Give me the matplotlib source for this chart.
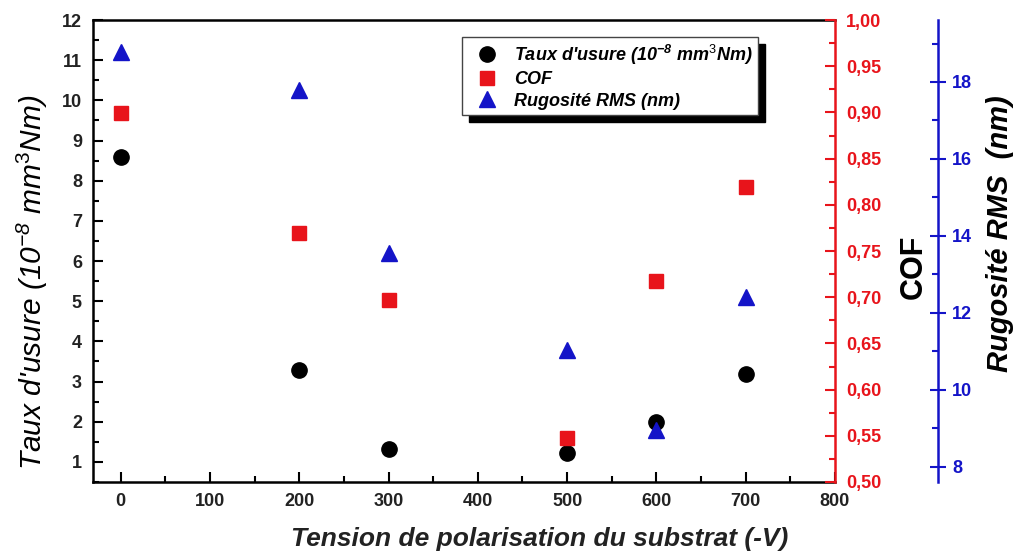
import matplotlib
matplotlib.use("Agg")
import matplotlib.pyplot as plt
from matplotlib.ticker import MultipleLocator, FuncFormatter

plt.rcParams['font.family'] = ['Liberation Sans', 'DejaVu Sans']
plt.rcParams['mathtext.fontset'] = 'custom'
plt.rcParams['mathtext.rm'] = 'Liberation Sans'
plt.rcParams['mathtext.it'] = 'Liberation Sans:italic'
plt.rcParams['mathtext.bf'] = 'Liberation Sans:italic:bold'

# data
tension = [0, 200, 300, 500, 600, 700]
taux_usure = [8.58, 3.29, 1.32, 1.23, 2.0, 3.2]
cof = [0.899, 0.769, 0.697, 0.548, 0.718, 0.819]
rugosite = [18.79, 17.8, 13.55, 11.04, 8.96, 12.42]

red = '#e8141b'
blue = '#1414c8'

fig = plt.figure(figsize=(10.21, 5.56), dpi=100)
ax = fig.add_axes([0.0911, 0.1331, 0.7267, 0.8309])
ax2 = ax.twinx()
ax3 = ax.twinx()

h1, = ax.plot(tension, taux_usure, 'o', color='black', ms=11, label="Taux d'usure")
h2, = ax2.plot(tension, cof, 's', color=red, ms=10, label='COF')
h3, = ax3.plot(tension, rugosite, '^', color=blue, ms=11.5, label='Rugosité RMS')

# left axis
ax.set_xlim(-31, 800)
ax.set_ylim(0.5, 12)
ax.xaxis.set_major_locator(MultipleLocator(100))
ax.xaxis.set_minor_locator(MultipleLocator(50))
ax.yaxis.set_major_locator(MultipleLocator(1))
ax.yaxis.set_minor_locator(MultipleLocator(0.5))
ax.tick_params(which='both', direction='in', top=False, right=False, width=1.5)
ax.tick_params(which='major', length=7, labelsize=13, pad=8)
ax.tick_params(which='minor', length=4)
for lab in ax.get_xticklabels() + ax.get_yticklabels():
    lab.set_fontweight('bold')
    lab.set_color('#222222')
for s in ['left', 'bottom', 'top']:
    ax.spines[s].set_linewidth(1.8)
ax.spines['right'].set_visible(False)
ax.set_ylabel(r"Taux d'usure (10$^{\mathregular{-8}}$ mm$^{3}$Nm)", fontsize=21.5, style='italic')
ax.yaxis.set_label_coords(-0.058, 0.433)
ax.set_xlabel('Tension de polarisation du substrat (-V)', fontsize=19,
              style='italic', fontweight='bold', color='#222222')
ax.xaxis.set_label_coords(0.602, -0.097)

# COF axis (red)
ax2.set_ylim(0.5, 1.0)
ax2.yaxis.set_major_locator(MultipleLocator(0.05))
ax2.yaxis.set_minor_locator(MultipleLocator(0.025))
ax2.yaxis.set_major_formatter(FuncFormatter(lambda v, p: f'{v:.2f}'.replace('.', ',')))
ax2.tick_params(which='both', direction='in', colors=red, width=1.5)
ax2.tick_params(which='major', length=7, labelsize=13, pad=8)
ax2.tick_params(which='minor', length=4)
for lab in ax2.get_yticklabels():
    lab.set_fontweight('bold')
ax2.spines['right'].set_color(red)
ax2.spines['right'].set_linewidth(1.8)
for s in ['left', 'top', 'bottom']:
    ax2.spines[s].set_visible(False)
ax2.set_ylabel('COF', fontsize=22, fontweight='bold')
ax2.yaxis.set_label_coords(1.086, 0.465)

# Rugosite axis (blue)
ax3.set_ylim(7.61, 19.61)
ax3.spines['right'].set_position(('axes', 1.139))
ax3.yaxis.set_major_locator(MultipleLocator(2))
ax3.yaxis.set_minor_locator(MultipleLocator(1))
ax3.tick_params(which='major', direction='inout', length=12, colors=blue, width=1.5,
                labelsize=13, pad=4)
ax3.tick_params(which='minor', direction='in', length=4, colors=blue, width=1.5)
for lab in ax3.get_yticklabels():
    lab.set_fontweight('bold')
ax3.spines['right'].set_color(blue)
ax3.spines['right'].set_linewidth(1.8)
for s in ['left', 'top', 'bottom']:
    ax3.spines[s].set_visible(False)
ax3.set_ylabel('Rugosité RMS  (nm)', fontsize=21, style='italic', fontweight='bold')
ax3.yaxis.set_label_coords(1.204, 0.537)

leg = ax3.legend([h1, h2, h3],
                 [r"Taux d'usure (10$^{\mathregular{-8}}$ mm$^{3}$Nm)", 'COF', 'Rugosité RMS (nm)'],
                 loc='upper left', bbox_to_anchor=(0.497, 0.963), fancybox=False,
                 shadow={'ox': 5, 'oy': -5, 'color': 'black', 'alpha': 1},
                 prop={'size': 13, 'style': 'italic', 'weight': 'bold'},
                 borderpad=0.3, labelspacing=0.25, handletextpad=0.4, handlelength=2.2,
                 borderaxespad=0)
leg.get_frame().set_edgecolor('#444444')
leg.get_frame().set_linewidth(1.0)

fig.savefig('out.png', dpi=100)
